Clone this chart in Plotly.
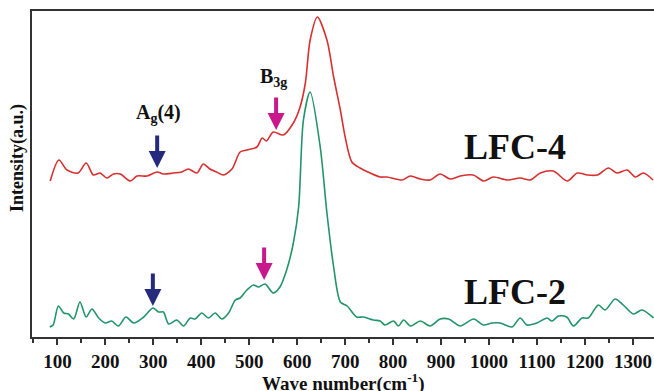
import plotly.graph_objects as go

# ---- data (wavenumber cm^-1, intensity a.u.) ----
lfc4_x = [85, 103, 120, 143, 160, 175, 189, 203, 217, 231, 252, 266, 287, 308, 321, 342, 359, 373,
          391, 404, 418, 432, 446, 464, 481, 495, 516, 527, 536, 550, 571, 592, 606, 617, 627, 642,
          662, 676, 690, 700, 714, 731, 752, 773, 787, 819, 836, 857, 877, 898, 919, 940, 967, 989,
          1009, 1038, 1065, 1086, 1107, 1134, 1163, 1184, 1205, 1226, 1249, 1267, 1288, 1305, 1322, 1342]
lfc4_y = [156, 177, 167, 164, 174, 162, 164, 159, 163, 163, 156, 161, 161, 165, 163, 164, 165, 168,
          164, 173, 168, 165, 162, 168, 185, 187, 190, 199, 196, 205, 202, 214, 230, 254, 297, 320,
          297, 260, 227, 200, 175, 169, 164, 160, 160, 157, 161, 158, 157, 163, 158, 161, 162, 156,
          160, 157, 159, 157, 164, 166, 156, 164, 162, 162, 169, 164, 167, 160, 164, 157]

lfc2_x = [84, 91, 102, 113, 123, 134, 147, 160, 172, 186, 200, 213, 227, 243, 259, 280, 299, 311,
          321, 332, 349, 363, 377, 387, 401, 415, 429, 443, 457, 471, 481, 495, 509, 519, 533, 550,
          564, 578, 592, 603, 613, 627, 648, 662, 676, 690, 704, 724, 738, 759, 773, 783, 801, 811,
          822, 836, 857, 877, 898, 916, 940, 968, 988, 1006, 1023, 1048, 1065, 1079, 1100, 1121, 1131,
          1145, 1162, 1176, 1194, 1207, 1228, 1242, 1263, 1280, 1301, 1319, 1343]
lfc2_y = [10, 12, 31, 24, 23, 18, 35, 20, 28, 19, 14, 16, 11, 20, 14, 20, 29, 25,
          25, 13, 17, 11, 19, 18, 24, 19, 24, 18, 24, 37, 39, 47, 52, 50, 53, 44,
          50, 67, 94, 130, 217, 245, 190, 124, 70, 35, 31, 20, 20, 17, 16, 12, 16, 11,
          17, 11, 16, 11, 18, 18, 11, 18, 12, 14, 14, 10, 19, 12, 14, 19, 16,
          21, 20, 11, 19, 19, 32, 27, 38, 32, 23, 27, 19]

x_ticks = [100, 200, 300, 400, 500, 600, 700, 800, 900, 1000, 1100, 1200, 1300]

# arrow annotations: (x, tip intensity, colour)
arrows_x = [308, 556, 299, 531]
arrows_y = [169, 207, 31, 57]
arrows_c = ["#262a7c", "#c8188c", "#262a7c", "#c8188c"]

peak_labels = ["A<sub>g</sub>(4)", "B<sub>3g</sub>"]
peak_label_x = [310, 550]
peak_label_y = [224, 260]

sample_labels = ["LFC-4", "LFC-2"]
sample_label_x = [1054, 1054]
sample_label_y = [190, 45]

FONT = "Liberation Serif"

fig = go.Figure()
fig.add_trace(go.Scatter(x=lfc4_x, y=lfc4_y, mode="lines",
                         line=dict(color="#d8302f", width=1.6, shape="spline", smoothing=0.8),
                         showlegend=False, hoverinfo="skip"))
fig.add_trace(go.Scatter(x=lfc2_x, y=lfc2_y, mode="lines",
                         line=dict(color="#22946a", width=1.6, shape="spline", smoothing=0.8),
                         showlegend=False, hoverinfo="skip"))

for x, y, c in zip(arrows_x, arrows_y, arrows_c):
    fig.add_annotation(x=x, y=y, xref="x", yref="y", text="", showarrow=True,
                       ax=0, ay=-34, arrowhead=2, arrowsize=0.85, arrowwidth=4, arrowcolor=c)

for t, x, y in zip(peak_labels, peak_label_x, peak_label_y):
    fig.add_annotation(x=x, y=y, xref="x", yref="y", text="<b>" + t + "</b>", showarrow=False,
                       font=dict(family=FONT, size=20, color="#111111"))

for t, x, y in zip(sample_labels, sample_label_x, sample_label_y):
    fig.add_annotation(x=x, y=y, xref="x", yref="y", text="<b>" + t + "</b>", showarrow=False,
                       font=dict(family=FONT, size=36, color="#111111"))

fig.add_annotation(x=0.5, y=0, xref="paper", yref="paper", yshift=-45, yanchor="middle",
                   text="<b>Wave number(cm<sup>-1</sup>)</b>", showarrow=False,
                   font=dict(family=FONT, size=19, color="#111111"))

fig.add_annotation(x=-0.024, y=0.549, xref="paper", yref="paper", textangle=-90,
                   xanchor="center", yanchor="middle",
                   text="<b>Intensity(a.u.)</b>", showarrow=False,
                   font=dict(family=FONT, size=18, color="#111111"))

fig.update_layout(
    width=654, height=391,
    margin=dict(l=32, r=0, t=11, b=54),
    paper_bgcolor="white", plot_bgcolor="white",
    xaxis=dict(range=[47, 1344], tickvals=x_ticks, ticktext=["<b>%d</b>" % v for v in x_ticks],
               ticks="outside", ticklen=6, tickwidth=1.5, tickcolor="#333333",
               minor=dict(dtick=50, tick0=0, ticks="outside", ticklen=4, tickwidth=1.5, tickcolor="#333333"),
               showline=True, linecolor="#333333", linewidth=2, mirror=True,
               showgrid=False, zeroline=False,
               tickfont=dict(family=FONT, size=19, color="#111111", weight="bold")),
    yaxis=dict(range=[0, 326], showticklabels=False, ticks="",
               showline=True, linecolor="#333333", linewidth=2, mirror=False,
               showgrid=False, zeroline=False),
)

fig.write_html("out.html")
